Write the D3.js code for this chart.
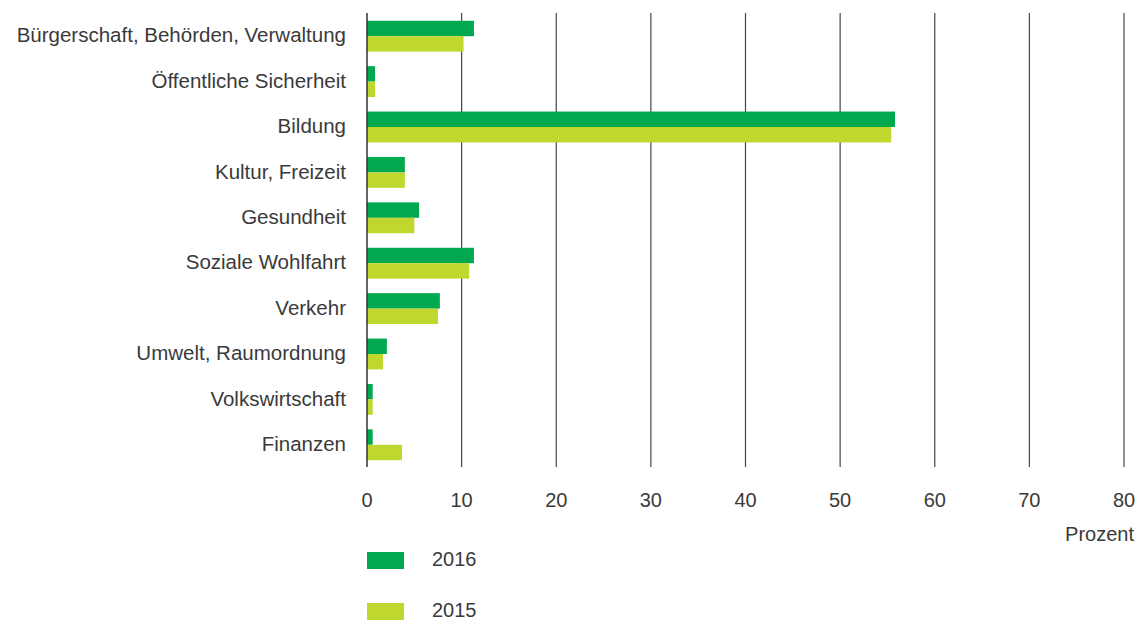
<!DOCTYPE html>
<html>
<head>
<meta charset="utf-8">
<script src="https://cdn.jsdelivr.net/npm/d3@7"></script>
<style>
  body { margin: 0; background: #fff; }
  text { font-family: "Liberation Sans", Arial, sans-serif; fill: #3a3a3a; }
</style>
</head>
<body>
<script>
const width = 1142;
const height = 621;

const categories = [
  'Bürgerschaft, Behörden, Verwaltung',
  'Öffentliche Sicherheit',
  'Bildung',
  'Kultur, Freizeit',
  'Gesundheit',
  'Soziale Wohlfahrt',
  'Verkehr',
  'Umwelt, Raumordnung',
  'Volkswirtschaft',
  'Finanzen',
];
const values2016 = [11.3, 0.85, 55.8, 4.0, 5.5, 11.3, 7.7, 2.1, 0.6, 0.6];
const values2015 = [10.2, 0.85, 55.4, 4.0, 5.0, 10.8, 7.5, 1.7, 0.6, 3.7];
const seriesNames = ['2016', '2015'];
const seriesColors = ['#00a84f', '#c0d72f'];
const ticks = [0, 10, 20, 30, 40, 50, 60, 70, 80];

const svg = d3.select('body')
  .append('svg')
  .attr('width', width)
  .attr('height', height);

const x = d3.scaleLinear().domain([0, 80]).range([367, 1124]);
const y = d3.scaleBand()
  .domain(categories)
  .range([13.5, 467.5])
  .paddingInner(0.32)
  .paddingOuter(0.16);
const sub = d3.scaleBand().domain(seriesNames).range([0, y.bandwidth()]);

// gridlines (except 0, drawn on top of bars)
svg.selectAll('.grid')
  .data(ticks.slice(1))
  .join('line')
    .attr('x1', d => x(d)).attr('x2', d => x(d))
    .attr('y1', 13).attr('y2', 467)
    .attr('stroke', '#444')
    .attr('stroke-width', 1.2);

const rows = categories.map((c, i) => ({ c, v: [values2016[i], values2015[i]] }));

const group = svg.selectAll('.row')
  .data(rows)
  .join('g')
    .attr('transform', d => `translate(0,${y(d.c)})`);

group.selectAll('rect')
  .data(d => d.v.map((v, j) => ({ v, s: seriesNames[j], color: seriesColors[j] })))
  .join('rect')
    .attr('x', x(0))
    .attr('y', d => sub(d.s))
    .attr('width', d => x(d.v) - x(0))
    .attr('height', sub.bandwidth())
    .attr('fill', d => d.color);

svg.append('line')
  .attr('x1', x(0)).attr('x2', x(0))
  .attr('y1', 13).attr('y2', 467)
  .attr('stroke', '#333')
  .attr('stroke-width', 1.5);

// category labels
svg.selectAll('.cat')
  .data(categories)
  .join('text')
    .attr('x', 346)
    .attr('y', d => y(d) + y.bandwidth() / 2 - 1)
    .attr('dy', '0.35em')
    .attr('text-anchor', 'end')
    .style('font-size', '20.5px')
    .text(d => d);

// x axis labels
svg.selectAll('.tick')
  .data(ticks)
  .join('text')
    .attr('x', d => x(d))
    .attr('y', 500)
    .attr('dy', '0.35em')
    .attr('text-anchor', 'middle')
    .style('font-size', '20px')
    .text(d => d);

svg.append('text')
  .attr('x', 1134)
  .attr('y', 534)
  .attr('dy', '0.35em')
  .attr('text-anchor', 'end')
  .style('font-size', '20px')
  .text('Prozent');

// legend
const legend = svg.selectAll('.legend')
  .data(seriesNames)
  .join('g')
    .attr('transform', (d, i) => `translate(367,${552 + i * 51})`);
legend.append('rect')
  .attr('width', 37)
  .attr('height', 17)
  .attr('fill', (d, i) => seriesColors[i]);
legend.append('text')
  .attr('x', 65)
  .attr('y', 7)
  .attr('dy', '0.35em')
  .style('font-size', '20px')
  .text(d => d);
</script>
</body>
</html>
